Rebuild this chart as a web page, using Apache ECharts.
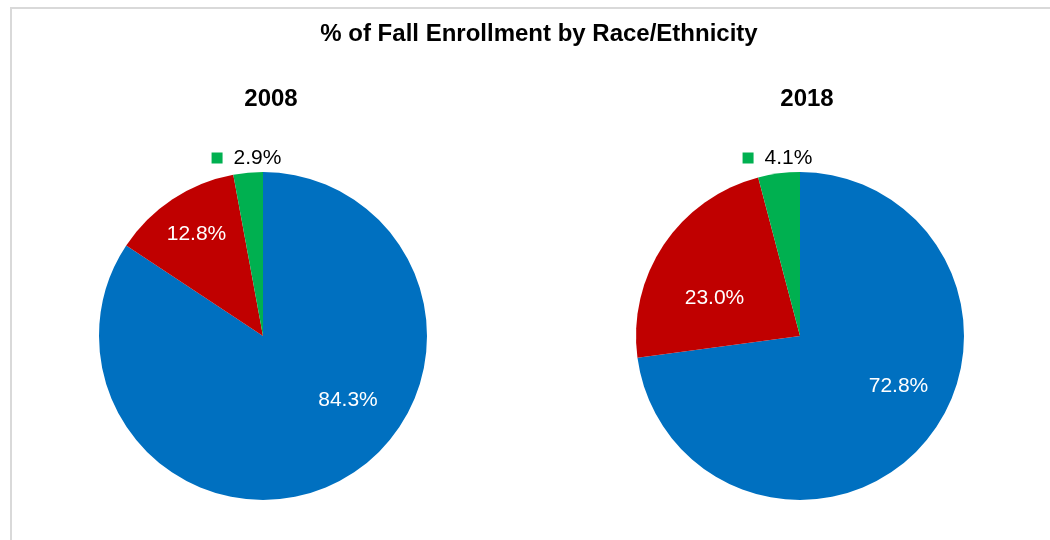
<!DOCTYPE html>
<html>
<head>
<meta charset="utf-8">
<script src="https://cdn.jsdelivr.net/npm/echarts@6/dist/echarts.min.js"></script>
<style>
html,body{margin:0;padding:0;background:#fff;}
#chart{width:1050px;height:540px;}
</style>
</head>
<body>
<div id="chart"></div>
<script>
// ---- data ----
const chartTitle = '% of Fall Enrollment by Race/Ethnicity';
const years = ['2008', '2018'];
const groups = ['Group A', 'Group B', 'Group C'];
const values2008 = [84.3, 12.8, 2.9];
const values2018 = [72.8, 23.0, 4.1];
const seriesValues = [values2008, values2018];

// ---- styling / layout ----
const colors = ['#0070C0', '#C00000', '#00B050'];
const font = '"Liberation Sans", Arial, sans-serif';
const centers = [[263, 336], [800, 336]];
const pieRadius = 164;
const yearTitleX = [271, 807];
// label offsets from pie centre (px)
const labelOffsets = [
  [[85, 64.5], [-66.5, -101.5], [-16.5, -178]],
  [[98.5, 50], [-85.5, -37.5], [-22.5, -178]]
];

const chart = echarts.init(document.getElementById('chart'), null, {renderer: 'canvas'});

const series = seriesValues.map((vals, si) => ({
  type: 'pie',
  name: years[si],
  center: centers[si],
  radius: pieRadius,
  startAngle: 90,
  clockwise: true,
  avoidLabelOverlap: false,
  silent: true,
  emphasis: {disabled: true},
  labelLine: {show: false},
  data: vals.map((v, i) => ({
    name: groups[i],
    value: v,
    itemStyle: {color: colors[i], borderWidth: 0},
    label: i === 2 ? {
      show: true,
      formatter: (p) => '{sq|}{t|' + p.value.toFixed(1) + '%}',
      rich: {
        sq: {width: 11, height: 11, backgroundColor: colors[2]},
        t: {fontSize: 21, color: '#000', fontFamily: font, padding: [0, 0, 0, 11]}
      }
    } : {
      show: true,
      color: '#fff',
      fontSize: 21,
      fontFamily: font,
      formatter: (p) => p.value.toFixed(1) + '%'
    }
  })),
  label: {position: 'inside'},
  labelLayout: (params) => {
    const off = labelOffsets[si][params.dataIndex];
    return {
      x: centers[si][0] + off[0],
      y: centers[si][1] + off[1],
      align: 'center',
      verticalAlign: 'middle'
    };
  }
}));

chart.setOption({
  animation: false,
  backgroundColor: '#fff',
  graphic: [{
    type: 'rect',
    shape: {x: 11, y: 8, width: 1200, height: 700},
    style: {fill: 'none', stroke: '#d9d9d9', lineWidth: 2},
    silent: true,
    z: -10
  }, {
    type: 'text',
    x: 539, y: 34,
    style: {text: chartTitle, font: 'bold 24px ' + font, fill: '#000', align: 'center', verticalAlign: 'middle'}
  }].concat(years.map((y, i) => ({
    type: 'text',
    x: yearTitleX[i], y: 99.5,
    style: {text: y, font: 'bold 24px ' + font, fill: '#000', align: 'center', verticalAlign: 'middle'}
  }))),
  series: series
});
</script>
</body>
</html>
